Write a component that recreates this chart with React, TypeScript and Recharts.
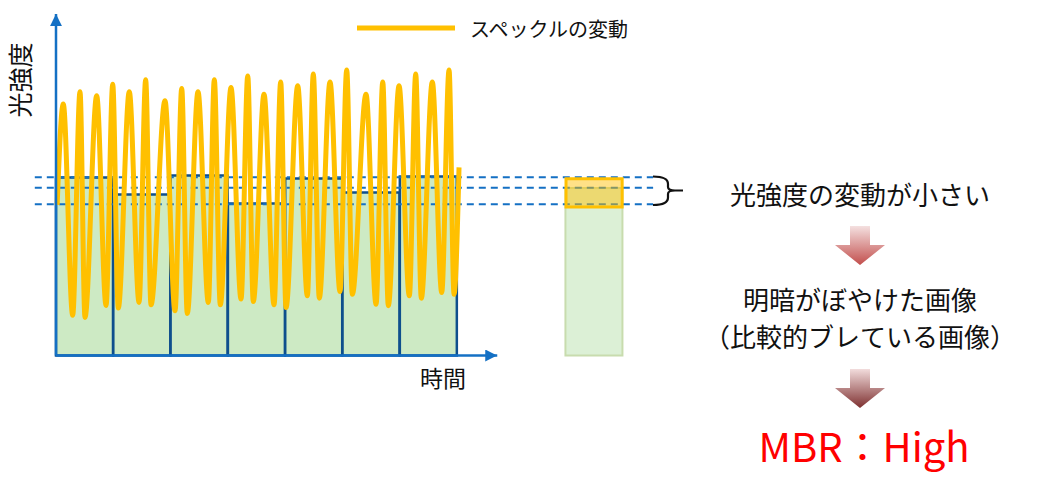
import React from 'react';
import {
  ComposedChart,
  Bar,
  Cell,
  Line,
  XAxis,
  YAxis,
  ReferenceLine,
  ReferenceArea,
} from 'recharts';

// light intensity of each exposure segment (one segment = 1 time unit)
const segmentLevels = [59.3, 53.7, 60.0, 50.7, 59.0, 54.3, 59.7];
// time-integrated bar on the right
const summaryAt = 9.39;
const summaryLevel = 55.8;
// spread of the segment levels (orange box) and the dashed guides
const fluctuationBand = [49.5, 58.9];
const guideLevels = [59.4, 55.9, 50.4];

// speckle fluctuation, read peak by peak
const waveTime = [
  0.02, 0.127, 0.291, 0.419, 0.506, 0.71, 0.873, 0.99, 1.087, 1.279, 1.449,
  1.565, 1.658, 1.902, 2.077, 2.194, 2.291, 2.478, 2.658, 2.763, 2.867, 3.054,
  3.229, 3.346, 3.443, 3.63, 3.805, 3.921, 4.014, 4.218, 4.386, 4.49, 4.595,
  4.782, 4.956, 5.073, 5.171, 5.41, 5.585, 5.702, 5.799, 5.986, 6.166, 6.277,
  6.375, 6.567, 6.731, 6.859, 6.946, 7.033,
];
const waveLevel = [
  50.2, 83.8, 13.4, 87.9, 12.7, 86.6, 16.7, 90.4, 15.8, 87.9, 17.7, 91.9, 16.9,
  84.9, 14.9, 89.0, 14.0, 87.9, 17.7, 91.9, 16.9, 89.3, 18.8, 93.2, 18.0, 87.1,
  16.9, 91.2, 16.0, 89.9, 19.9, 93.8, 19.1, 91.2, 21.3, 95.2, 20.4, 87.1, 17.1,
  91.2, 16.6, 89.9, 19.9, 93.8, 19.1, 91.2, 21.0, 95.2, 20.4, 62.7,
];

const chartRows = [
  ...segmentLevels.map((level, i) => ({ t: i + 0.5, level, kind: 'segment' })),
  { t: summaryAt, level: summaryLevel, kind: 'summary' },
];
const waveRows = waveTime.map((t, i) => ({ t, level: waveLevel[i] }));

const AXIS_BLUE = '#1470c4';
const FONT = "'Noto Sans CJK JP', 'Noto Sans', sans-serif";

const arrowLine = (props: any) => (
  <line
    x1={props.x1}
    y1={props.y1}
    x2={props.x2}
    y2={props.y2}
    stroke={AXIS_BLUE}
    strokeWidth={2.5}
    markerEnd="url(#axisArrow)"
  />
);

function DownArrow({ top, fill }: { top: number; fill: string }) {
  const cx = 860;
  const pts = [
    [cx - 10, top],
    [cx + 10, top],
    [cx + 10, top + 19],
    [cx + 25, top + 19],
    [cx, top + 39],
    [cx - 25, top + 19],
    [cx - 10, top + 19],
  ];
  return <polygon points={pts.map((p) => p.join(',')).join(' ')} fill={fill} />;
}

export default function App() {
  return (
    <div style={{ position: 'absolute', left: 0, top: 0, width: 1037, height: 494, background: '#fff' }}>
      <ComposedChart
        width={700}
        height={362}
        data={chartRows}
        margin={{ top: 10.5, right: 13.65, bottom: 6.5, left: 27.35 }}
      >
        <defs>
          <marker
            id="axisArrow"
            viewBox="0 0 12 12"
            refX={12}
            refY={6}
            markerWidth={12}
            markerHeight={12}
            markerUnits="userSpaceOnUse"
            orient="auto"
          >
            <path d="M0,0 L12,6 L0,12 Z" fill={AXIS_BLUE} />
          </marker>
        </defs>
        <XAxis dataKey="t" type="number" domain={[-0.5, 11]} hide />
        <XAxis xAxisId="wave" dataKey="t" type="number" domain={[-0.5, 11]} hide />
        <YAxis type="number" domain={[0, 115]} hide />

        <Bar dataKey="level" barSize={57} isAnimationActive={false}>
          {chartRows.map((r) =>
            r.kind === 'summary' ? (
              <Cell key={r.t} fill="#cdeac4" fillOpacity={0.7} stroke="#c8dcae" strokeWidth={2} />
            ) : (
              <Cell key={r.t} fill="#cdeac4" stroke="#0e4f8d" strokeWidth={2.5} />
            )
          )}
        </Bar>

        {guideLevels.map((level) => (
          <ReferenceLine
            key={level}
            segment={[
              { x: -0.37, y: level },
              { x: 10.42, y: level },
            ]}
            stroke={AXIS_BLUE}
            strokeWidth={2}
            strokeDasharray="7 5"
          />
        ))}

        <Line
          xAxisId="wave"
          data={waveRows}
          dataKey="level"
          type="monotone"
          stroke="#FFC000"
          strokeWidth={5}
          dot={false}
          activeDot={false}
          isAnimationActive={false}
        />

        <ReferenceArea
          x1={summaryAt - 0.49}
          x2={summaryAt + 0.49}
          y1={fluctuationBand[0]}
          y2={fluctuationBand[1]}
          fill="#FFC000"
          fillOpacity={0.47}
          stroke="#FFC000"
          strokeWidth={3}
          zIndex={1500}
        />

        <ReferenceLine segment={[{ x: 0, y: 0 }, { x: 0, y: 113.8 }]} shape={arrowLine} />
        <ReferenceLine segment={[{ x: 0, y: 0 }, { x: 7.7, y: 0 }]} shape={arrowLine} />
      </ComposedChart>

      <svg
        width={1037}
        height={494}
        style={{ position: 'absolute', left: 0, top: 0, pointerEvents: 'none' }}
        fontFamily={FONT}
      >
        <defs>
          <linearGradient id="arrowPink" x1="0" y1="0" x2="0" y2="1">
            <stop offset="0%" stopColor="#f4e0e0" />
            <stop offset="100%" stopColor="#c24e4c" />
          </linearGradient>
          <linearGradient id="arrowMaroon" x1="0" y1="0" x2="0" y2="1">
            <stop offset="0%" stopColor="#f2dcdc" />
            <stop offset="100%" stopColor="#7e3030" />
          </linearGradient>
        </defs>

        {/* legend */}
        <line x1={357} y1={28} x2={455} y2={28} stroke="#FFC000" strokeWidth={5} />
        <text x={470} y={28} fontSize={20} dominantBaseline="central" fill="#111">
          スペックルの変動
        </text>

        {/* axis titles */}
        <text
          x={19}
          y={80}
          fontSize={25}
          textAnchor="middle"
          dominantBaseline="central"
          transform="rotate(-90 19 80)"
          fill="#111"
        >
          光強度
        </text>
        <text x={443} y={377} fontSize={23} textAnchor="middle" dominantBaseline="central" fill="#111">
          時間
        </text>

        {/* brace */}
        <path
          d="M653,176.5 Q668,176.5 668,184 L668,187 Q668,190.5 675,190.5 L683,190.5 M675,190.5 Q668,190.5 668,194 L668,197.5 Q668,205 653,205"
          fill="none"
          stroke="#111"
          strokeWidth={2.2}
        />

        {/* explanation */}
        <text x={860} y={193.5} fontSize={26} textAnchor="middle" dominantBaseline="central" fill="#111">
          光強度の変動が小さい
        </text>
        <DownArrow top={226} fill="url(#arrowPink)" />
        <text x={860} y={298} fontSize={26} textAnchor="middle" dominantBaseline="central" fill="#111">
          明暗がぼやけた画像
        </text>
        <text x={860} y={335} fontSize={26} textAnchor="middle" dominantBaseline="central" fill="#111">
          （比較的ブレている画像）
        </text>
        <DownArrow top={369} fill="url(#arrowMaroon)" />
        <text x={864} y={462} fontSize={40} textAnchor="middle" fill="#ff0000">
          MBR：High
        </text>
      </svg>
    </div>
  );
}
